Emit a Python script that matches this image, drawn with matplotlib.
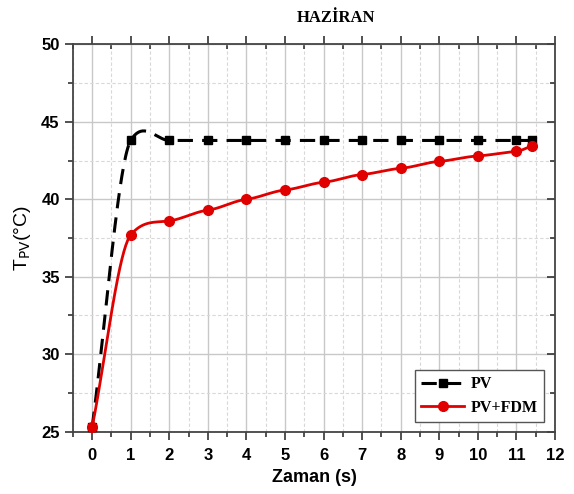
import numpy as np
import matplotlib
matplotlib.use("Agg")
import matplotlib.pyplot as plt
from matplotlib.ticker import MultipleLocator

# Measured series
zaman = [0, 1, 2, 3, 4, 5, 6, 7, 8, 9, 10, 11, 11.4]
pv = [25.3, 43.8, 43.8, 43.8, 43.8, 43.8, 43.8, 43.8, 43.8, 43.8, 43.8, 43.8, 43.8]
pv_fdm = [25.3, 37.7, 38.6, 39.3, 40.0, 40.6, 41.1, 41.6, 42.0, 42.45, 42.8, 43.1, 43.45]

series_labels = ["PV", "PV+FDM"]
title = "HAZİRAN"
xlabel = "Zaman (s)"
ylabel = r"T$_{\mathrm{PV}}$(°C)"


def smooth_curve(x, y, tension=0.45, per_seg=40):
    """Cardinal (Hermite) spline through the points for a smooth connecting line."""
    x = np.asarray(x, float)
    y = np.asarray(y, float)
    k = len(x)
    m = np.zeros(k)
    m[0] = (y[1] - y[0]) / (x[1] - x[0])
    m[-1] = (y[-1] - y[-2]) / (x[-1] - x[-2])
    for i in range(1, k - 1):
        m[i] = tension * (y[i + 1] - y[i - 1]) / (x[i + 1] - x[i - 1])
    xs_all, ys_all = [], []
    for i in range(k - 1):
        h = x[i + 1] - x[i]
        t = np.linspace(0, 1, per_seg)
        h00 = 2 * t ** 3 - 3 * t ** 2 + 1
        h10 = t ** 3 - 2 * t ** 2 + t
        h01 = -2 * t ** 3 + 3 * t ** 2
        h11 = t ** 3 - t ** 2
        xs_all.append(x[i] + t * h)
        ys_all.append(h00 * y[i] + h10 * h * m[i] + h01 * y[i + 1] + h11 * h * m[i + 1])
    return np.concatenate(xs_all), np.concatenate(ys_all)


fig = plt.figure(figsize=(5.74, 4.94), dpi=100)
ax = fig.add_axes([0.127, 0.1265, 0.840, 0.7835])

# PV: black dashed curve with square markers
xs, ys = smooth_curve(zaman, pv)
ax.plot(xs, ys, color="black", lw=2.2, linestyle=(0, (5, 3)), zorder=3)
ax.plot(zaman, pv, "s", color="black", ms=6, zorder=4)

# PV+FDM: red solid curve with circle markers
xs2, ys2 = smooth_curve(zaman, pv_fdm)
ax.plot(xs2, ys2, color="#e00000", lw=2.0, zorder=3)
ax.plot(zaman, pv_fdm, "o", color="#e00000", ms=7, zorder=4)

# Legend proxies
h1, = ax.plot([], [], color="black", lw=2.2, linestyle=(0, (5, 3)), marker="s", ms=6)
h2, = ax.plot([], [], color="#e00000", lw=2.0, marker="o", ms=7)
leg = ax.legend([h1, h2], series_labels, loc="lower right",
                bbox_to_anchor=(0.977, 0.0245), borderaxespad=0,
                fancybox=False, framealpha=1, edgecolor="#555555",
                handlelength=2.7, handletextpad=0.4, borderpad=0.4,
                labelspacing=0.45,
                prop={"family": "Liberation Serif", "weight": "bold", "size": 11.5})
leg.get_frame().set_linewidth(1.0)

ax.set_xlim(-0.5, 12)
ax.set_ylim(25, 50)
ax.xaxis.set_major_locator(MultipleLocator(1))
ax.xaxis.set_minor_locator(MultipleLocator(0.5))
ax.yaxis.set_major_locator(MultipleLocator(5))
ax.yaxis.set_minor_locator(MultipleLocator(2.5))

ax.grid(which="major", color="#c8c8c8", lw=1.0, linestyle="-")
ax.grid(which="minor", color="#d8d8d8", lw=0.8, linestyle=(0, (3, 2)))
ax.set_axisbelow(True)

ax.tick_params(which="both", bottom=True, left=True, top=True, right=True,
               labeltop=False, labelright=False, width=1.2, color="#333333",
               direction="out")
ax.tick_params(which="major", length=6)
ax.tick_params(which="minor", length=3.5)
# top and right ticks point into the plot
for t in ax.xaxis.get_ticklines(minor=False)[1::2] + ax.xaxis.get_ticklines(minor=True)[1::2]:
    t.set_marker(3)
for t in ax.yaxis.get_ticklines(minor=False)[1::2] + ax.yaxis.get_ticklines(minor=True)[1::2]:
    t.set_marker(0)
for s in ax.spines.values():
    s.set_linewidth(1.3)
    s.set_color("#444444")

for lab in ax.get_xticklabels() + ax.get_yticklabels():
    lab.set_fontfamily("Liberation Sans")
    lab.set_fontweight("bold")
    lab.set_fontsize(12)
ax.tick_params(axis="x", pad=6)

ax.set_xlabel(xlabel, fontfamily="Liberation Sans", fontweight="bold", fontsize=13)
ax.set_ylabel(ylabel, fontfamily="Liberation Sans", fontsize=14, labelpad=6)

fig.text(0.585, 0.963, title, ha="center", va="center",
         fontfamily="Liberation Serif", fontweight="bold", fontsize=12)

fig.savefig("out.png", dpi=100)
